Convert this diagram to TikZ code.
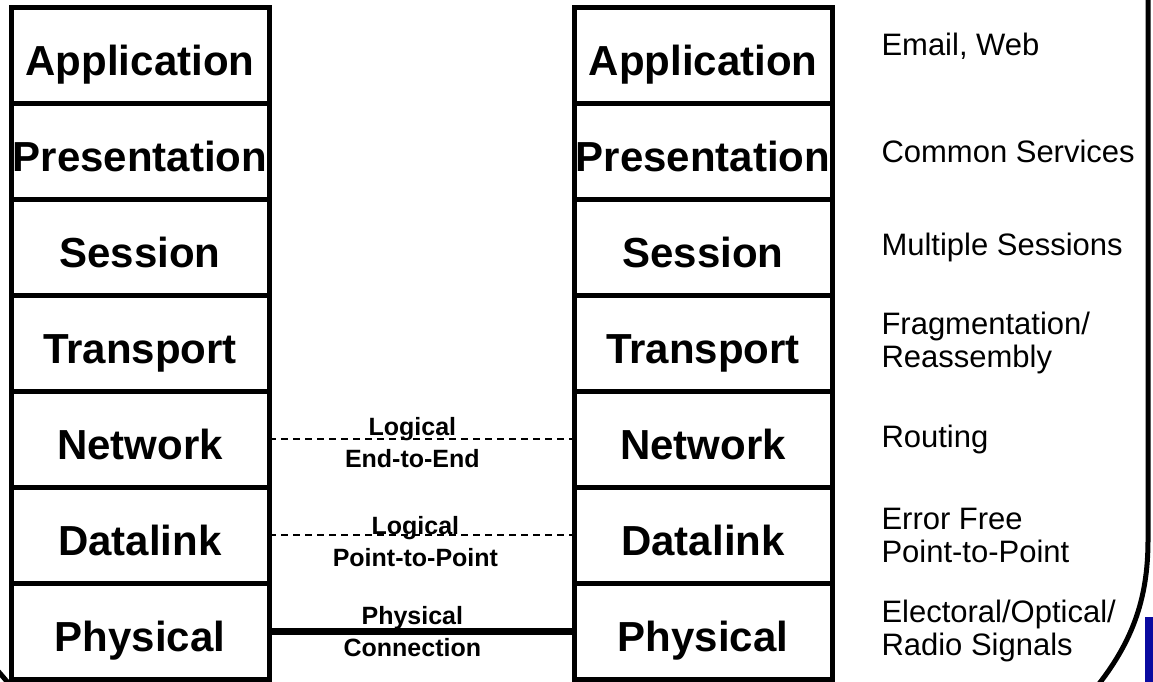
\documentclass[tikz,border=0pt]{standalone}
\usepackage{fontspec}
\setmainfont{Liberation Sans}
\usetikzlibrary{positioning}
\definecolor{barblue}{RGB}{10,10,160}
\tikzset{
every picture/.style={
line width=1pt
}}
\tikzset{
layer/.style={
  draw, line width=5pt,
  minimum width=258pt, minimum height=96pt,
  inner sep=0pt, outer sep=0pt,
  text height=40pt, text depth=0pt,
  font=\fontsize{42}{48}\selectfont\bfseries
},
link/.style={line width=1.3pt, dash pattern=on 7pt off 5pt},
phys/.style={line width=7pt},
linklabel/.style={align=center, inner sep=0pt, font=\fontsize{25}{32}\selectfont\bfseries},
desc/.style={align=left, inner sep=0pt, font=\fontsize{31}{33}\selectfont},
frame/.style={line width=5pt}
}

\begin{document}
\begin{tikzpicture}[x=1pt, y=-1pt]
  \useasboundingbox (0,0) rectangle (1153,681);

  \node[layer] (l1) at (140,55) {Application};
  \node[layer] (r1) at (703,55) {Application};
  \foreach \Name [count=\Val from 2] in {Presentation,Session,Transport,Network,Datalink,Physical} {
    \pgfmathtruncatemacro\Prev{\Val-1}
    \node[layer, below=0pt of l\Prev] (l\Val) {\Name};
    \node[layer, below=0pt of r\Prev] (r\Val) {\Name};
  }

  \draw[link] (l5) -- node[linklabel, pos=0.47, yshift=-4pt] (netlabel) {Logical\\End-to-End} (r5);
  \draw[link] (l6) -- node[linklabel, pos=0.48, yshift=-7pt] (dllabel) {Logical\\Point-to-Point} (r6);
  \draw[phys] (l7) -- node[linklabel, pos=0.47, yshift=-1pt] (phlabel) {Physical\\Connection} (r7);

  \node[desc, right=49pt of r1, yshift=9pt] (d1) {Email, Web};
  \foreach \Val/\Text in {2/{Common Services}, 3/{Multiple Sessions}, 4/{Fragmentation/\\Reassembly},
      5/{Routing}, 6/{Error Free\\Point-to-Point}, 7/{Electoral/Optical/\\Radio Signals}} {
    \node[desc, right=49pt of r\Val] (d\Val) {\Text};
  }

  \draw[frame] (1148,-10) -- (1148,540) .. controls (1148,600) and (1132,645) .. (1090,695);
  \draw[frame] (-8,664) -- (16,692);
  \fill[barblue] (1145,617) rectangle (1160,690);
\end{tikzpicture}
\end{document}
